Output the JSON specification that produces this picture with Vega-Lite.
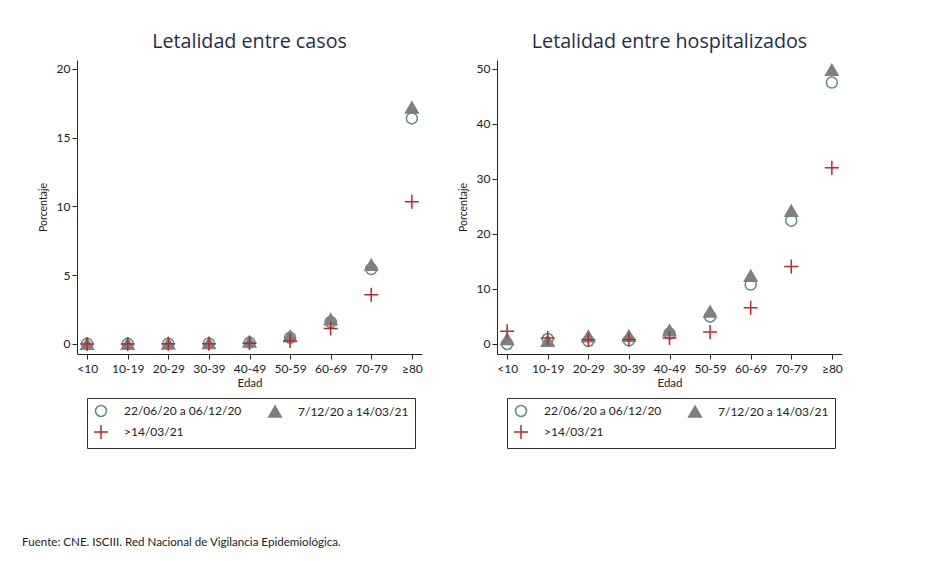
{
  "$schema": "https://vega.github.io/schema/vega-lite/v6.json",
  "background": "white",
  "padding": {"left": 22, "top": 32, "right": 5, "bottom": 5},
  "bounds": "flush",
  "spacing": 75,
  "title": {"text": "Fuente: CNE. ISCIII. Red Nacional de Vigilancia Epidemiológica.", "orient": "bottom", "anchor": "start", "frame": "bounds", "offset": 88, "dx": -16, "font": "Lato", "fontSize": 11.6, "fontWeight": "normal", "color": "#222222"},
  "config": {
    "view": {"stroke": null},
    "font": "Lato",
    "axis": {"grid": false, "domainColor": "#222222", "tickColor": "#222222", "labelColor": "#222222", "titleColor": "#222222", "labelFont": "Lato", "titleFont": "Lato", "labelFontSize": 12, "titleFontSize": 11.5, "titleFontWeight": "normal", "tickSize": 5, "domainWidth": 1, "tickWidth": 1},
    "title": {"font": "Open Sans", "fontSize": 19.7, "fontWeight": "normal", "color": "#1f2d4a", "anchor": "middle", "offset": 8}
  },
  "data": {"values": [
    {"panel": "casos", "edad": "<10", "serie": "22/06/20 a 06/12/20", "valor": 0.01},
    {"panel": "casos", "edad": "10-19", "serie": "22/06/20 a 06/12/20", "valor": 0.01},
    {"panel": "casos", "edad": "20-29", "serie": "22/06/20 a 06/12/20", "valor": 0.02},
    {"panel": "casos", "edad": "30-39", "serie": "22/06/20 a 06/12/20", "valor": 0.04},
    {"panel": "casos", "edad": "40-49", "serie": "22/06/20 a 06/12/20", "valor": 0.1},
    {"panel": "casos", "edad": "50-59", "serie": "22/06/20 a 06/12/20", "valor": 0.45},
    {"panel": "casos", "edad": "60-69", "serie": "22/06/20 a 06/12/20", "valor": 1.6},
    {"panel": "casos", "edad": "70-79", "serie": "22/06/20 a 06/12/20", "valor": 5.45},
    {"panel": "casos", "edad": "≥80", "serie": "22/06/20 a 06/12/20", "valor": 16.4},
    {"panel": "casos", "edad": "<10", "serie": "7/12/20 a 14/03/21", "valor": 0.02},
    {"panel": "casos", "edad": "10-19", "serie": "7/12/20 a 14/03/21", "valor": 0.02},
    {"panel": "casos", "edad": "20-29", "serie": "7/12/20 a 14/03/21", "valor": 0.03},
    {"panel": "casos", "edad": "30-39", "serie": "7/12/20 a 14/03/21", "valor": 0.07},
    {"panel": "casos", "edad": "40-49", "serie": "7/12/20 a 14/03/21", "valor": 0.18},
    {"panel": "casos", "edad": "50-59", "serie": "7/12/20 a 14/03/21", "valor": 0.58},
    {"panel": "casos", "edad": "60-69", "serie": "7/12/20 a 14/03/21", "valor": 1.8},
    {"panel": "casos", "edad": "70-79", "serie": "7/12/20 a 14/03/21", "valor": 5.75},
    {"panel": "casos", "edad": "≥80", "serie": "7/12/20 a 14/03/21", "valor": 17.2},
    {"panel": "casos", "edad": "<10", "serie": ">14/03/21", "valor": 0.0},
    {"panel": "casos", "edad": "10-19", "serie": ">14/03/21", "valor": 0.0},
    {"panel": "casos", "edad": "20-29", "serie": ">14/03/21", "valor": 0.01},
    {"panel": "casos", "edad": "30-39", "serie": ">14/03/21", "valor": 0.02},
    {"panel": "casos", "edad": "40-49", "serie": ">14/03/21", "valor": 0.06},
    {"panel": "casos", "edad": "50-59", "serie": ">14/03/21", "valor": 0.22},
    {"panel": "casos", "edad": "60-69", "serie": ">14/03/21", "valor": 1.12},
    {"panel": "casos", "edad": "70-79", "serie": ">14/03/21", "valor": 3.58},
    {"panel": "casos", "edad": "≥80", "serie": ">14/03/21", "valor": 10.35},
    {"panel": "hosp", "edad": "<10", "serie": "22/06/20 a 06/12/20", "valor": 0.0},
    {"panel": "hosp", "edad": "10-19", "serie": "22/06/20 a 06/12/20", "valor": 0.9},
    {"panel": "hosp", "edad": "20-29", "serie": "22/06/20 a 06/12/20", "valor": 0.55},
    {"panel": "hosp", "edad": "30-39", "serie": "22/06/20 a 06/12/20", "valor": 0.65},
    {"panel": "hosp", "edad": "40-49", "serie": "22/06/20 a 06/12/20", "valor": 1.9},
    {"panel": "hosp", "edad": "50-59", "serie": "22/06/20 a 06/12/20", "valor": 5.0},
    {"panel": "hosp", "edad": "60-69", "serie": "22/06/20 a 06/12/20", "valor": 10.8},
    {"panel": "hosp", "edad": "70-79", "serie": "22/06/20 a 06/12/20", "valor": 22.4},
    {"panel": "hosp", "edad": "≥80", "serie": "22/06/20 a 06/12/20", "valor": 47.5},
    {"panel": "hosp", "edad": "<10", "serie": "7/12/20 a 14/03/21", "valor": 0.9},
    {"panel": "hosp", "edad": "10-19", "serie": "7/12/20 a 14/03/21", "valor": 0.6},
    {"panel": "hosp", "edad": "20-29", "serie": "7/12/20 a 14/03/21", "valor": 1.4},
    {"panel": "hosp", "edad": "30-39", "serie": "7/12/20 a 14/03/21", "valor": 1.5},
    {"panel": "hosp", "edad": "40-49", "serie": "7/12/20 a 14/03/21", "valor": 2.5},
    {"panel": "hosp", "edad": "50-59", "serie": "7/12/20 a 14/03/21", "valor": 5.9},
    {"panel": "hosp", "edad": "60-69", "serie": "7/12/20 a 14/03/21", "valor": 12.4},
    {"panel": "hosp", "edad": "70-79", "serie": "7/12/20 a 14/03/21", "valor": 24.2},
    {"panel": "hosp", "edad": "≥80", "serie": "7/12/20 a 14/03/21", "valor": 49.8},
    {"panel": "hosp", "edad": "<10", "serie": ">14/03/21", "valor": 2.3},
    {"panel": "hosp", "edad": "10-19", "serie": ">14/03/21", "valor": 1.1},
    {"panel": "hosp", "edad": "20-29", "serie": ">14/03/21", "valor": 0.75},
    {"panel": "hosp", "edad": "30-39", "serie": ">14/03/21", "valor": 0.8},
    {"panel": "hosp", "edad": "40-49", "serie": ">14/03/21", "valor": 1.1},
    {"panel": "hosp", "edad": "50-59", "serie": ">14/03/21", "valor": 2.2},
    {"panel": "hosp", "edad": "60-69", "serie": ">14/03/21", "valor": 6.6},
    {"panel": "hosp", "edad": "70-79", "serie": ">14/03/21", "valor": 14.1},
    {"panel": "hosp", "edad": "≥80", "serie": ">14/03/21", "valor": 32.0}
  ]},
  "resolve": {
    "scale": {"y": "independent"},
    "legend": {"shape": "independent", "fill": "independent", "stroke": "independent", "size": "independent"}
  },
  "hconcat": [
    {
      "width": 345, "height": 294,
      "title": {"text": "Letalidad entre casos"},
      "transform": [{"filter": "datum.panel == 'casos'"}],
      "mark": {"type": "point", "filled": false, "opacity": 1, "strokeWidth": 1.5},
      "encoding": {
        "x": {"field": "edad", "type": "ordinal", "title": "Edad",
              "scale": {"type": "point", "domain": ["<10", "10-19", "20-29", "30-39", "40-49", "50-59", "60-69", "70-79", "≥80"], "padding": 0.25},
              "axis": {"labelAngle": 0, "labelPadding": 4, "titlePadding": 3}},
        "y": {"field": "valor", "type": "quantitative", "title": "Porcentaje",
              "scale": {"domain": [-0.73, 20.65], "nice": false, "zero": false},
              "axis": {"values": [0, 5, 10, 15, 20], "titleFontSize": 10.5, "titlePadding": 8}},
        "shape": {"field": "serie", "type": "nominal",
                  "scale": {"domain": ["22/06/20 a 06/12/20", "7/12/20 a 14/03/21", ">14/03/21"], "range": ["circle", "triangle-up", "M-1,0H1M0,-1V1"]},
                  "legend": {"title": null, "orient": "none", "legendX": 10, "legendY": 338, "columns": 2, "direction": "horizontal", "strokeColor": "#333333", "padding": 6, "columnPadding": 23, "rowPadding": 2, "labelFont": "Lato", "labelFontSize": 12, "labelColor": "#222222", "labelOffset": 15, "symbolStrokeWidth": 1.5, "symbolOpacity": 1}},
        "fill": {"field": "serie", "type": "nominal",
                 "scale": {"domain": ["22/06/20 a 06/12/20", "7/12/20 a 14/03/21", ">14/03/21"], "range": ["transparent", "#7f7f7f", "transparent"]}},
        "stroke": {"field": "serie", "type": "nominal",
                   "scale": {"domain": ["22/06/20 a 06/12/20", "7/12/20 a 14/03/21", ">14/03/21"], "range": ["#5b8b8c", "#7f7f7f", "#c0272d"]}},
        "size": {"field": "serie", "type": "nominal",
                 "scale": {"domain": ["22/06/20 a 06/12/20", "7/12/20 a 14/03/21", ">14/03/21"], "range": [121, 196, 225]}}
      }
    },
    {
      "width": 345, "height": 294,
      "title": {"text": "Letalidad entre hospitalizados"},
      "transform": [{"filter": "datum.panel == 'hosp'"}],
      "mark": {"type": "point", "filled": false, "opacity": 1, "strokeWidth": 1.5},
      "encoding": {
        "x": {"field": "edad", "type": "ordinal", "title": "Edad",
              "scale": {"type": "point", "domain": ["<10", "10-19", "20-29", "30-39", "40-49", "50-59", "60-69", "70-79", "≥80"], "padding": 0.25},
              "axis": {"labelAngle": 0, "labelPadding": 4, "titlePadding": 3}},
        "y": {"field": "valor", "type": "quantitative", "title": "Porcentaje",
              "scale": {"domain": [-1.82, 51.6], "nice": false, "zero": false},
              "axis": {"values": [0, 10, 20, 30, 40, 50], "titleFontSize": 10.5, "titlePadding": 8}},
        "shape": {"field": "serie", "type": "nominal",
                  "scale": {"domain": ["22/06/20 a 06/12/20", "7/12/20 a 14/03/21", ">14/03/21"], "range": ["circle", "triangle-up", "M-1,0H1M0,-1V1"]},
                  "legend": {"title": null, "orient": "none", "legendX": 10, "legendY": 338, "columns": 2, "direction": "horizontal", "strokeColor": "#333333", "padding": 6, "columnPadding": 23, "rowPadding": 2, "labelFont": "Lato", "labelFontSize": 12, "labelColor": "#222222", "labelOffset": 15, "symbolStrokeWidth": 1.5, "symbolOpacity": 1}},
        "fill": {"field": "serie", "type": "nominal",
                 "scale": {"domain": ["22/06/20 a 06/12/20", "7/12/20 a 14/03/21", ">14/03/21"], "range": ["transparent", "#7f7f7f", "transparent"]}},
        "stroke": {"field": "serie", "type": "nominal",
                   "scale": {"domain": ["22/06/20 a 06/12/20", "7/12/20 a 14/03/21", ">14/03/21"], "range": ["#5b8b8c", "#7f7f7f", "#c0272d"]}},
        "size": {"field": "serie", "type": "nominal",
                 "scale": {"domain": ["22/06/20 a 06/12/20", "7/12/20 a 14/03/21", ">14/03/21"], "range": [121, 196, 225]}}
      }
    }
  ]
}
